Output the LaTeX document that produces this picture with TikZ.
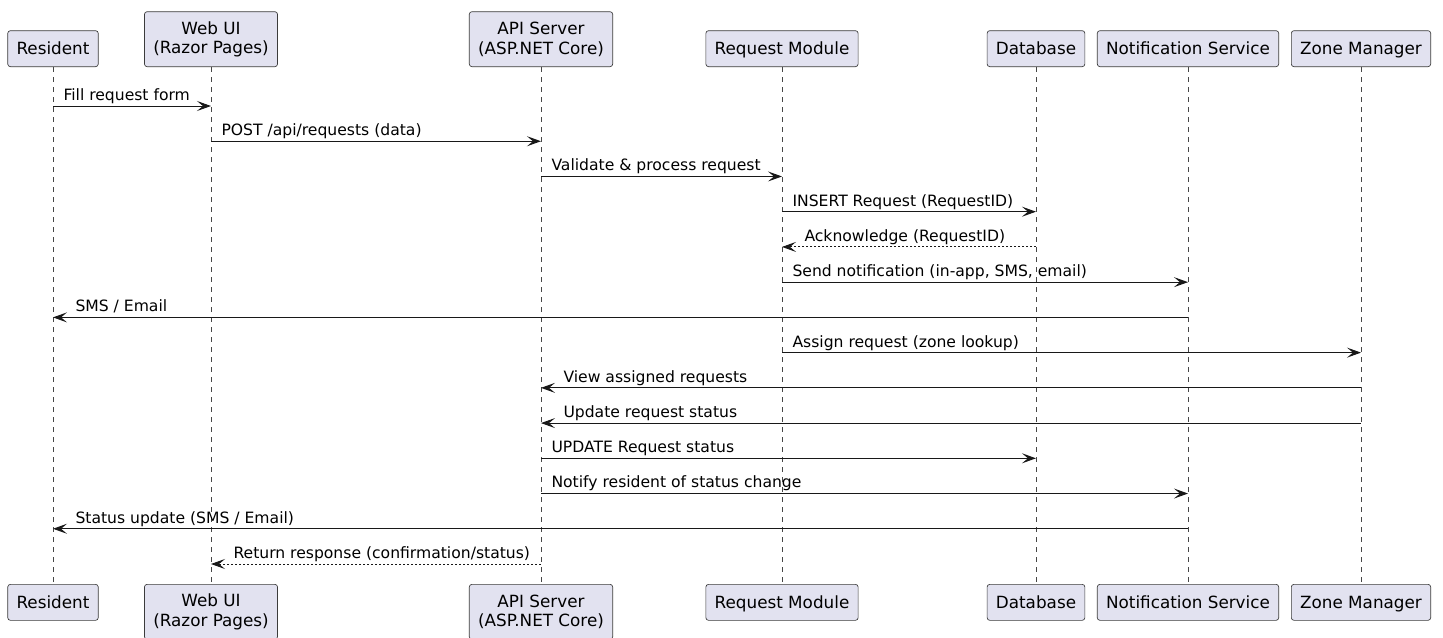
\documentclass[tikz,border=0pt]{standalone}
\usepackage{fontspec}
\setmainfont{DejaVu Sans}
\usetikzlibrary{arrows.meta}
\definecolor{partfill}{HTML}{E2E2F0}
\definecolor{ink}{HTML}{181818}

\begin{document}
\begin{tikzpicture}[
    x=0.75pt, y=-0.75pt,
    part/.style={rectangle, rounded corners=2pt, draw=ink!85, line width=0.5pt, fill=partfill, align=center, inner xsep=6.6pt, inner ysep=2pt, font=\fontsize{12.6}{14.6}\selectfont},
    one/.style={minimum height=27pt, text height=9.6pt, text depth=1pt},
    two/.style={minimum height=41.25pt},
    life/.style={ink!80, line width=0.5pt, dash pattern=on 3.75pt off 3.75pt},
    msg/.style={-{Stealth[length=10.5pt, width=7.5pt, inset=4.5pt]}, ink, line width=0.75pt},
    reply/.style={msg, dash pattern=on 1.5pt off 1.5pt},
    lbl/.style={font=\fontsize{11.7}{14}\selectfont, text=black, anchor=base west, inner sep=0pt, yshift=4.2pt},
    lblr/.style={lbl, xshift=7.5pt},
    lbll/.style={lbl, xshift=16.5pt}
]
    \useasboundingbox (0,0) rectangle (1443,637);

    % Participants, top and bottom
    \foreach \id/\x/\sty/\txt in {res/53/one/Resident, web/211/two/{Web UI\\(Razor Pages)}, api/541/two/{API Server\\(ASP.NET Core)}, rm/782/one/Request Module, db/1036/one/Database, ns/1188/one/Notification Service, zm/1361/one/Zone Manager} {
        \node[part, \sty, anchor=south] (\id) at (\x,67) {\txt};
        \node[part, \sty, anchor=north] (\id-b) at (\x,584) {\txt};
        \draw[life] (\id.south) -- (\id-b.north);
    }

    % Message rows
    \foreach \i in {1,...,14} {
        \coordinate (m\i) at (0,{106+35.23*(\i-1)});
    }

    % Submitting a request
    \draw[msg] (res |- m1) -- (web |- m1) node[lblr, at start] {Fill request form};
    \draw[msg] (web |- m2) -- (api |- m2) node[lblr, at start] {POST /api/requests (data)};
    \draw[msg] (api |- m3) -- (rm |- m3) node[lblr, at start] {Validate \& process request};
    \draw[msg] (rm |- m4) -- (db |- m4) node[lblr, at start] {INSERT Request (RequestID)};
    \draw[reply] (db |- m5) -- (rm |- m5) node[lbll, at end] {Acknowledge (RequestID)};
    \draw[msg] (rm |- m6) -- (ns |- m6) node[lblr, at start] {Send notification (in-app, SMS, email)};
    \draw[msg] (ns |- m7) -- (res |- m7) node[lbll, at end] {SMS / Email};

    % Assignment and status updates
    \draw[msg] (rm |- m8) -- (zm |- m8) node[lblr, at start] {Assign request (zone lookup)};
    \draw[msg] (zm |- m9) -- (api |- m9) node[lbll, at end] {View assigned requests};
    \draw[msg] (zm |- m10) -- (api |- m10) node[lbll, at end] {Update request status};
    \draw[msg] (api |- m11) -- (db |- m11) node[lblr, at start] {UPDATE Request status};
    \draw[msg] (api |- m12) -- (ns |- m12) node[lblr, at start] {Notify resident of status change};
    \draw[msg] (ns |- m13) -- (res |- m13) node[lbll, at end] {Status update (SMS / Email)};
    \draw[reply] (api |- m14) -- (web |- m14) node[lbll, at end] {Return response (confirmation/status)};
\end{tikzpicture}
\end{document}
